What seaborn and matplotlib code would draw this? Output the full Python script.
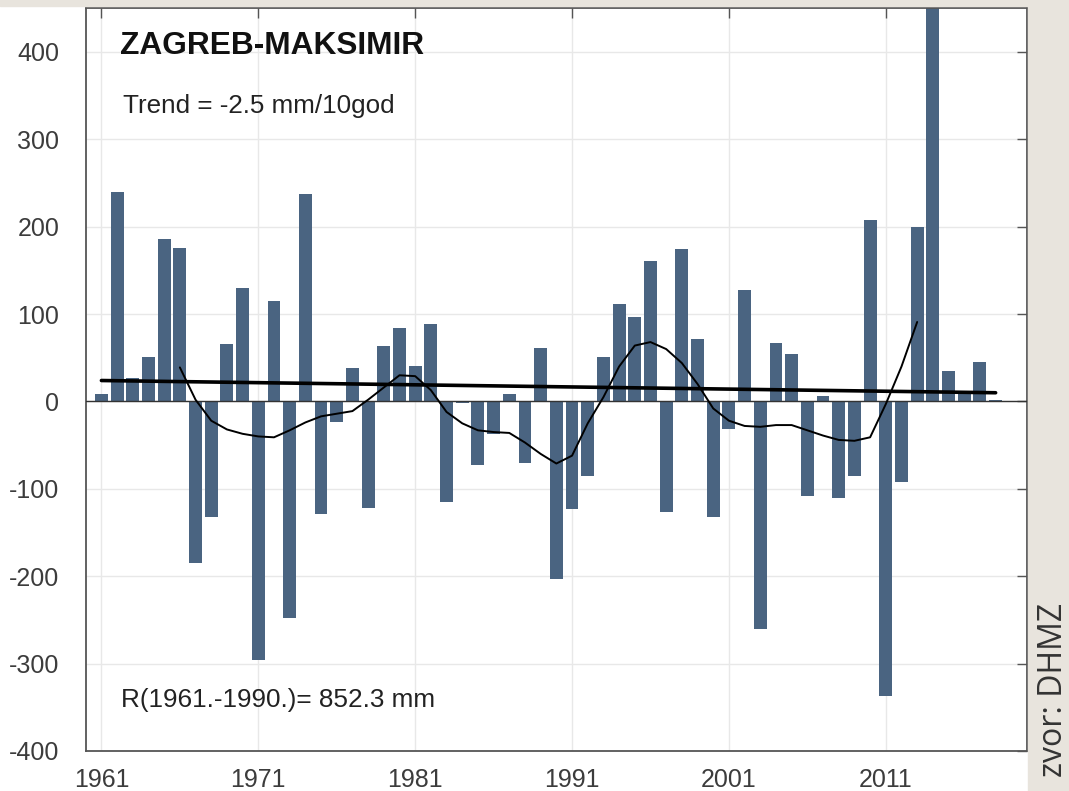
import matplotlib
matplotlib.use('Agg')
import matplotlib.pyplot as plt
from matplotlib.patches import Rectangle
import seaborn as sns

# Annual precipitation anomalies, Zagreb-Maksimir (mm, relative to 1961-1990 mean)
years = list(range(1961, 2019))
anomaly = [8, 240, 27, 51, 186, 176, -185, -132, 66, 130,
           -296, 115, -248, 238, -129, -23, 38, -122, 63, 84,
           41, 89, -115, -2, -73, -37, 8, -70, 61, -203,
           -123, -85, 51, 112, 97, 161, -127, 175, 72, -132,
           -31, 128, -260, 67, 54, -108, 6, -110, -85, 208,
           -337, -92, 200, 480, 35, 10, 45, 2]

# linear trend (end points)
trend_years = [1961, 2018]
trend_vals = [24, 10]

# smoothed curve
smooth_years = list(range(1966, 2014))
smooth_vals = [39, 2, -22, -32, -37, -40, -41, -33, -24, -17,
               -14, -11, 2, 16, 30, 29, 13, -12, -25, -33,
               -35, -36, -47, -60, -71, -62, -25, 5, 40, 64,
               68, 60, 44, 20, -8, -22, -28, -29, -27, -27,
               -33, -39, -44, -45, -41, -3, 40, 91]

x_ticks = [1961, 1971, 1981, 1991, 2001, 2011]
y_ticks = list(range(-400, 401, 100))

bar_color = '#4a6481'
beige = '#e8e4dd'

sns.set_style('white')
plt.rcParams['font.family'] = ['Liberation Sans', 'DejaVu Sans']

fig = plt.figure(figsize=(10.69, 7.91), dpi=100)
ax = fig.add_axes([0.0802, 0.0506, 0.8805, 0.9389])

sns.barplot(x=years, y=anomaly, native_scale=True, color=bar_color,
            saturation=1, width=0.82, linewidth=0, ax=ax, zorder=2)
ax.axhline(0, color='#333333', lw=1, zorder=3)
sns.lineplot(x=trend_years, y=trend_vals, color='black', lw=2.6,
             estimator=None, ax=ax, zorder=4)
sns.lineplot(x=smooth_years, y=smooth_vals, color='black', lw=1.4,
             estimator=None, ax=ax, zorder=4)

ax.set_xlim(1960, 2020)
ax.set_ylim(-400, 450)
ax.set_xticks(x_ticks)
ax.set_xticklabels([str(y) for y in x_ticks])
ax.set_yticks(y_ticks)
ax.set_yticklabels([str(v) for v in y_ticks])
ax.set_xlabel('')
ax.set_ylabel('')
ax.grid(True, color='#e8e8e8', lw=1, zorder=0)
ax.set_axisbelow(True)
ax.tick_params(direction='in', top=True, right=True, length=7, width=1,
               color='#555555', labelsize=18, labelcolor='#3c3c3c')
ax.tick_params(axis='y', pad=19)
ax.tick_params(axis='x', pad=12)
for sp in ax.spines.values():
    sp.set_color('#555555')
    sp.set_linewidth(1.3)

ax.text(1962.2, 407, 'ZAGREB-MAKSIMIR', fontsize=22.8, fontweight='bold',
        ha='left', va='center', color='#111111')
ax.text(1962.35, 338, 'Trend = -2.5 mm/10god', fontsize=18.7, ha='left',
        va='center', color='#222222')
ax.text(1962.25, -342, 'R(1961.-1990.)= 852.3 mm', fontsize=18.8, ha='left',
        va='center', color='#222222')

# beige page bands around the chart
fig.patches.append(Rectangle((0, 1 - 6 / 791), 1, 6 / 791, transform=fig.transFigure,
                             color=beige, zorder=0))
fig.patches.append(Rectangle((1028 / 1069, 0), 1 - 1028 / 1069, 1, transform=fig.transFigure,
                             color=beige, zorder=0))
fig.text(1054 / 1069, 1 - 603 / 791, 'zvor: DHMZ', rotation=90, ha='center', va='top',
         fontsize=23, family=['Open Sans', 'DejaVu Sans'], color='#333333')

fig.savefig('out.png', dpi=100)
